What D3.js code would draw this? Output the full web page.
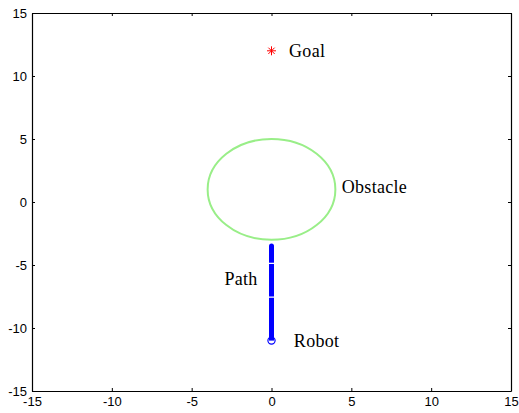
<!DOCTYPE html>
<meta charset="utf-8">
<script src="https://d3js.org/d3.v7.min.js"></script>
<style>
    body { margin: 0; background: #fff; }
</style>
<div id="chart"></div>
<script>
    // data
    var xTicks = [-15, -10, -5, 0, 5, 10, 15];
    var yTicks = [-15, -10, -5, 0, 5, 10, 15];
    var goal = [0, 12];
    var robot = [0, -11];
    var obstacleCenter = [0, 1];
    var obstacleRadius = 4;
    // path drawn in three pieces with small gaps between them
    var pathPieces = [
        [[0, -3.5], [0, -4.82]],
        [[0, -4.92], [0, -7.5]],
        [[0, -7.6], [0, -11]]
    ];
    var labels = [
        { text: "Goal", x: 1.1, y: 11.5 },
        { text: "Obstacle", x: 4.4, y: 0.7 },
        { text: "Path", x: -2.95, y: -6.6 },
        { text: "Robot", x: 1.4, y: -11.5 }
    ];

    var W = 519, H = 413;
    var margin = { top: 13, right: 8, bottom: 22, left: 32 };
    var width = W - margin.left - margin.right,
        height = H - margin.top - margin.bottom;

    var svg = d3.select("#chart").append("svg")
        .attr("width", W).attr("height", H);
    var g = svg.append("g")
        .attr("transform", "translate(" + margin.left + "," + margin.top + ")");

    var x = d3.scaleLinear().domain([-15, 15]).range([0, width]);
    var y = d3.scaleLinear().domain([-15, 15]).range([height, 0]);
    var fmt = function (d) { return String(d); };

    // axes (ticks inside, box on)
    function styleAxis(sel) {
        sel.select(".domain").attr("stroke", "#000").attr("stroke-width", 1.2);
        sel.selectAll(".tick line").attr("stroke", "#000");
        sel.selectAll("text").attr("font-family", "Liberation Sans, Arial, sans-serif")
            .attr("font-size", "13px").attr("fill", "#000");
    }
    g.append("g").attr("transform", "translate(0," + height + ")")
        .call(d3.axisBottom(x).tickValues(xTicks).tickFormat(fmt).tickSize(-3).tickPadding(6).tickSizeOuter(0))
        .call(styleAxis);
    g.append("g")
        .call(d3.axisLeft(y).tickValues(yTicks).tickFormat(fmt).tickSize(-3).tickPadding(5).tickSizeOuter(0))
        .call(styleAxis);
    g.append("g")
        .call(d3.axisTop(x).tickValues(xTicks).tickSize(-3).tickFormat("").tickSizeOuter(0))
        .call(styleAxis);
    g.append("g").attr("transform", "translate(" + width + ",0)")
        .call(d3.axisRight(y).tickValues(yTicks).tickSize(-3).tickFormat("").tickSizeOuter(0))
        .call(styleAxis);

    // obstacle
    g.append("ellipse")
        .attr("cx", x(obstacleCenter[0]))
        .attr("cy", y(obstacleCenter[1]))
        .attr("rx", x(obstacleRadius) - x(0))
        .attr("ry", y(0) - y(obstacleRadius))
        .attr("fill", "none")
        .attr("stroke", "#99ee88")
        .attr("stroke-width", 2);

    // path
    var line = d3.line().x(function (d) { return x(d[0]); }).y(function (d) { return y(d[1]); });
    g.selectAll(".piece").data(pathPieces).enter().append("path")
        .attr("class", "piece")
        .attr("d", line)
        .attr("fill", "none")
        .attr("stroke", "#0000ff")
        .attr("stroke-width", 5);
    g.append("circle").attr("cx", x(pathPieces[0][0][0])).attr("cy", y(pathPieces[0][0][1]))
        .attr("r", 2.5).attr("fill", "#0000ff");

    // robot marker
    g.append("circle")
        .attr("cx", x(robot[0])).attr("cy", y(robot[1]))
        .attr("r", 3.6)
        .attr("fill", "none")
        .attr("stroke", "#0000ff")
        .attr("stroke-width", 1.2);

    // goal marker (asterisk)
    var gx = x(goal[0]), gy = y(goal[1]), s = 4.5;
    var star = g.append("g").attr("stroke", "#ff0000").attr("stroke-width", 1);
    star.append("line").attr("x1", gx - s).attr("x2", gx + s).attr("y1", gy).attr("y2", gy);
    star.append("line").attr("x1", gx).attr("x2", gx).attr("y1", gy - s).attr("y2", gy + s);
    star.append("line").attr("x1", gx - s * 0.7).attr("x2", gx + s * 0.7).attr("y1", gy - s * 0.7).attr("y2", gy + s * 0.7);
    star.append("line").attr("x1", gx - s * 0.7).attr("x2", gx + s * 0.7).attr("y1", gy + s * 0.7).attr("y2", gy - s * 0.7);

    // labels
    g.selectAll(".lbl").data(labels).enter().append("text")
        .attr("class", "lbl")
        .attr("x", function (d) { return x(d.x); })
        .attr("y", function (d) { return y(d.y); })
        .attr("font-family", "Liberation Serif, Times New Roman, serif")
        .attr("font-size", "18px")
        .attr("letter-spacing", "0.3px")
        .attr("fill", "#000")
        .text(function (d) { return d.text; });
</script>
